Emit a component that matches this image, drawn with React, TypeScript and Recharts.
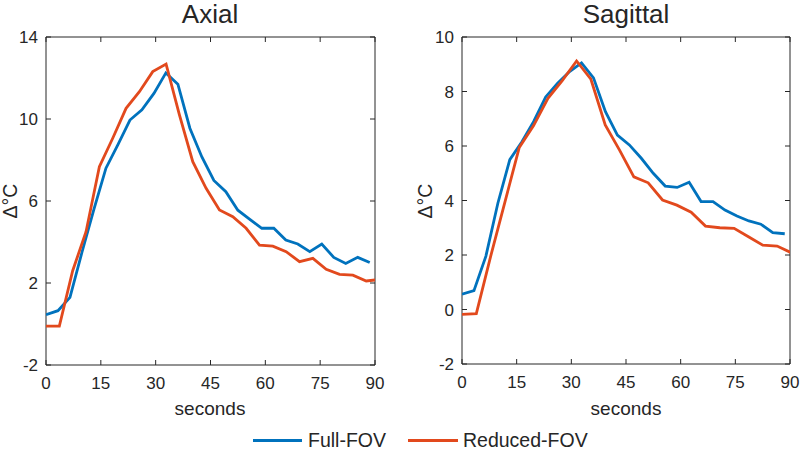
import { LineChart, Line, XAxis, YAxis, ReferenceArea } from 'recharts'

// ── Data ──────────────────────────────────────────────────
const X_TICKS = [0, 15, 30, 45, 60, 75, 90]
const AXIAL_Y_TICKS = [-2, 2, 6, 10, 14]
const SAG_Y_TICKS = [-2, 0, 2, 4, 6, 8, 10]

// Full-FOV frames (both views)
const FULL_T = [0, 3.28, 6.56, 9.84, 13.12, 16.4, 19.68, 22.96, 26.24, 29.52, 32.8, 36.08, 39.36, 42.64,
  45.92, 49.2, 52.48, 55.76, 59.04, 62.32, 65.6, 68.88, 72.16, 75.44, 78.72, 82, 85.28, 88.56]
const AXIAL_FULL = [0.45, 0.65, 1.3, 3.5, 5.6, 7.6, 8.75, 9.95, 10.45, 11.25, 12.25, 11.7, 9.55, 8.15,
  7.0, 6.45, 5.55, 5.1, 4.67, 4.67, 4.1, 3.9, 3.53, 3.9, 3.25, 2.95, 3.25, 3.0]
const SAG_FULL = [0.56, 0.69, 1.96, 3.9, 5.5, 6.15, 6.9, 7.8, 8.3, 8.73, 9.05, 8.5, 7.26, 6.4,
  6.04, 5.55, 5.0, 4.53, 4.48, 4.67, 3.96, 3.96, 3.65, 3.43, 3.25, 3.13, 2.82, 2.78]

// Reduced-FOV frames
const AXIAL_RED_T = [0, 3.65, 7.3, 10.95, 14.6, 18.25, 21.9, 25.55, 29.2, 32.85, 36.5, 40.15, 43.8,
  47.45, 51.1, 54.75, 58.4, 62.05, 65.7, 69.35, 73, 76.65, 80.3, 83.95, 87.6, 91.25]
const AXIAL_RED = [-0.1, -0.1, 2.6, 4.5, 7.67, 9.06, 10.52, 11.33, 12.31, 12.68, 10.2, 7.92, 6.62,
  5.56, 5.23, 4.67, 3.85, 3.8, 3.53, 3.04, 3.2, 2.67, 2.42, 2.38, 2.1, 2.17]
const SAG_RED_T = [0, 3.93, 7.86, 11.79, 15.72, 19.65, 23.58, 27.51, 31.44, 35.37, 39.3, 43.23,
  47.16, 51.09, 55.02, 58.95, 62.88, 66.81, 70.74, 74.67, 78.6, 82.53, 86.46, 90.39]
const SAG_RED = [-0.18, -0.15, 1.95, 3.95, 5.95, 6.75, 7.75, 8.4, 9.12, 8.45, 6.77, 5.85,
  4.87, 4.65, 4.02, 3.83, 3.57, 3.06, 3.0, 2.98, 2.67, 2.36, 2.33, 2.08]

// ── Style ─────────────────────────────────────────────────
const BLUE = '#0072BD'
const RED = '#E2491D'
const AX = '#262626'
const FONT = '"Liberation Sans", Arial, Helvetica, sans-serif'

const toPts = (t: number[], v: number[]) => t.map((x, i) => ({ t: x, v: v[i] }))

type Box = { left: number; right: number; top: number; bottom: number }

// ticks point inward on all four sides, matlab-style
function XTick({ x, payload, box }: any) {
  const b: Box = box
  return (
    <g>
      <line x1={x} x2={x} y1={b.bottom} y2={b.bottom - 5} stroke={AX} strokeWidth={1} />
      <line x1={x} x2={x} y1={b.top} y2={b.top + 5} stroke={AX} strokeWidth={1} />
      <text x={x} y={b.bottom + 24} textAnchor="middle" fontSize={17} fontFamily={FONT} fill={AX}>
        {payload.value}
      </text>
    </g>
  )
}

function YTick({ y, payload, box }: any) {
  const b: Box = box
  return (
    <g>
      <line x1={b.left} x2={b.left + 5} y1={y} y2={y} stroke={AX} strokeWidth={1} />
      <line x1={b.right} x2={b.right - 5} y1={y} y2={y} stroke={AX} strokeWidth={1} />
      <text x={b.left - 8} y={y + 6} textAnchor="end" fontSize={17} fontFamily={FONT} fill={AX}>
        {payload.value}
      </text>
    </g>
  )
}

function Panel({
  width, height, box, yDomain, yTicks, full, reduced,
}: {
  width: number; height: number; box: Box; yDomain: [number, number]; yTicks: number[]
  full: { t: number; v: number }[]; reduced: { t: number; v: number }[]
}) {
  return (
    <LineChart
      width={width}
      height={height}
      margin={{ top: box.top, right: width - box.right, left: 0, bottom: 0 }}
    >
      <XAxis
        type="number" dataKey="t" domain={[0, 90]} ticks={X_TICKS} allowDataOverflow
        height={height - box.bottom} axisLine={false} tickLine={false}
        tick={(p: any) => <XTick {...p} box={box} />}
      />
      <YAxis
        type="number" dataKey="v" domain={yDomain} ticks={yTicks} allowDataOverflow
        width={box.left} axisLine={false} tickLine={false}
        tick={(p: any) => <YTick {...p} box={box} />}
      />
      <ReferenceArea
        x1={0} x2={90} y1={yDomain[0]} y2={yDomain[1]}
        fill="none" fillOpacity={0} stroke={AX} strokeWidth={1} strokeOpacity={1}
      />
      <Line data={full} dataKey="v" stroke={BLUE} strokeWidth={2.8} dot={false} isAnimationActive={false} />
      <Line data={reduced} dataKey="v" stroke={RED} strokeWidth={2.8} dot={false} isAnimationActive={false} />
    </LineChart>
  )
}

export default function App() {
  const leftBox: Box = { left: 46, right: 375, top: 37, bottom: 365 }
  const rightBox: Box = { left: 62, right: 390, top: 37, bottom: 364 }

  return (
    <div style={{ position: 'absolute', left: 0, top: 0, width: 800, height: 450, background: '#fff' }}>
      <svg width={800} height={450} style={{ position: 'absolute', left: 0, top: 0 }}>
        <g fontFamily={FONT} fill={AX}>
          <text x={210} y={23} textAnchor="middle" fontSize={26}>Axial</text>
          <text x={626} y={23} textAnchor="middle" fontSize={26}>Sagittal</text>
          <text x={210} y={415} textAnchor="middle" fontSize={19}>seconds</text>
          <text x={626} y={415} textAnchor="middle" fontSize={19}>seconds</text>
          <text x={17} y={201} textAnchor="middle" fontSize={19.5} transform="rotate(-90 17 201)">Δ°C</text>
          <text x={432} y={201} textAnchor="middle" fontSize={19.5} transform="rotate(-90 432 201)">Δ°C</text>
          <line x1={253} x2={302} y1={440.5} y2={440.5} stroke={BLUE} strokeWidth={3} />
          <text x={308} y={447} fontSize={19.5}>Full-FOV</text>
          <line x1={408} x2={458} y1={440.5} y2={440.5} stroke={RED} strokeWidth={3} />
          <text x={463} y={447} fontSize={19.5}>Reduced-FOV</text>
        </g>
      </svg>
      <div style={{ position: 'absolute', left: 0, top: 0 }}>
        <Panel
          width={400} height={400} box={leftBox} yDomain={[-2, 14]} yTicks={AXIAL_Y_TICKS}
          full={toPts(FULL_T, AXIAL_FULL)} reduced={toPts(AXIAL_RED_T, AXIAL_RED)}
        />
      </div>
      <div style={{ position: 'absolute', left: 400, top: 0 }}>
        <Panel
          width={400} height={400} box={rightBox} yDomain={[-2, 10]} yTicks={SAG_Y_TICKS}
          full={toPts(FULL_T, SAG_FULL)} reduced={toPts(SAG_RED_T, SAG_RED)}
        />
      </div>
    </div>
  )
}
